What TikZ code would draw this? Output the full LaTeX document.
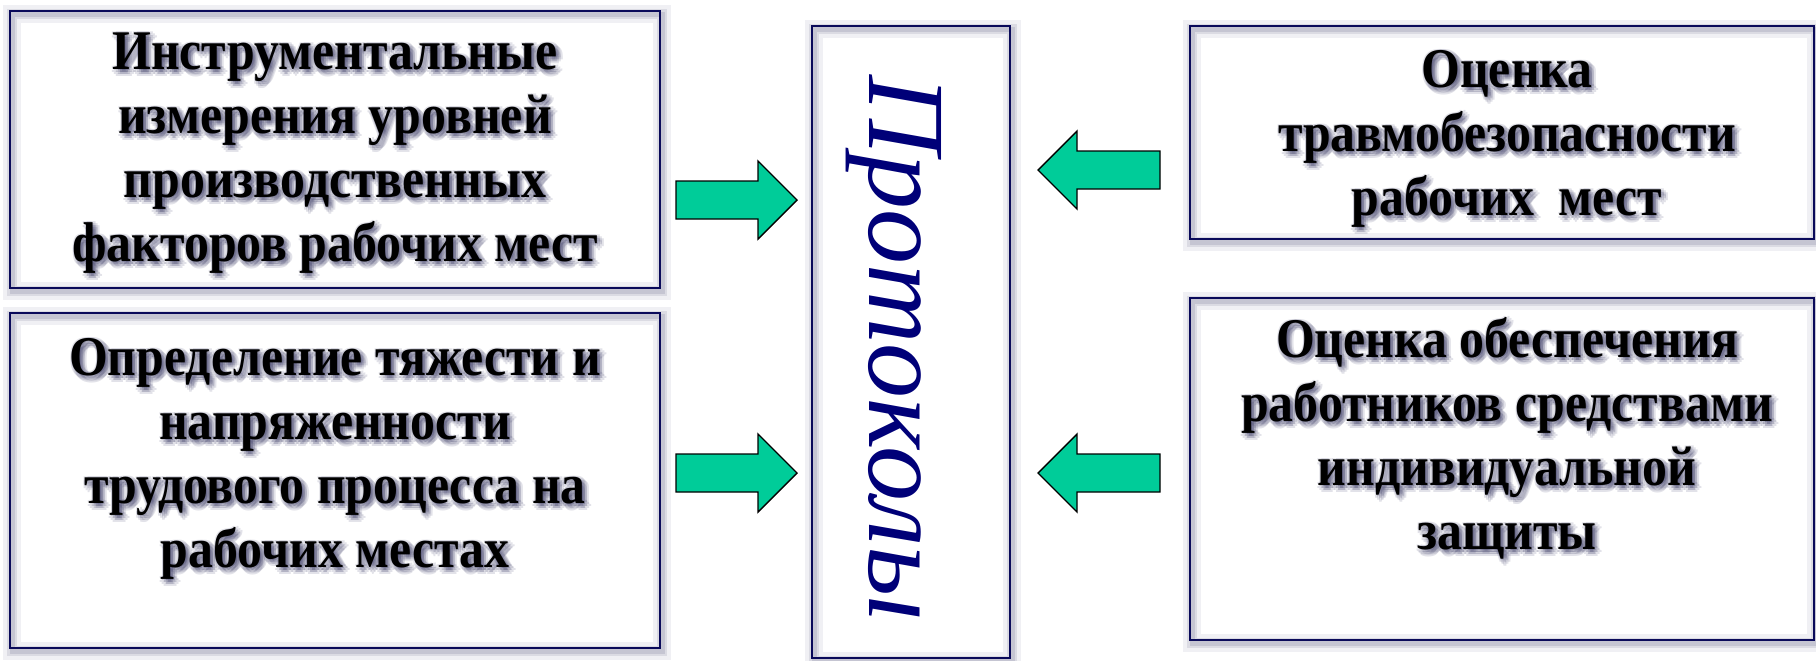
\documentclass[tikz,border=0pt]{standalone}
\usepackage{fontspec}
\setmainfont{Liberation Serif}
\newfontfamily\lblfont[FakeStretch=0.89]{Liberation Serif}
\definecolor{frameblue}{RGB}{10,10,90}
\definecolor{protblue}{RGB}{0,0,120}
\definecolor{arrowgreen}{RGB}{0,204,153}
\definecolor{shadowgray}{RGB}{70,70,110}
\definecolor{glownavy}{RGB}{20,20,70}
\tikzset{
  frame/.style={rectangle, draw=frameblue, line width=1.2pt, inner sep=0pt,
    preaction={draw=shadowgray, line width=9pt, draw opacity=0.08, transform canvas={xshift=1pt,yshift=-1.5pt}},
    preaction={draw=shadowgray, line width=5pt, draw opacity=0.12, transform canvas={xshift=1pt,yshift=-1.5pt}},
    preaction={draw=shadowgray, line width=2.5pt, draw opacity=0.15, transform canvas={xshift=1pt,yshift=-1.5pt}}},
  lbl/.style={align=center, font=\fontsize{28}{32}\lblfont\bfseries, text=black, inner sep=0pt},
  lblglow/.style={lbl, text=glownavy, text opacity=0.12},
  grarrow/.style={draw=black, line width=0.7pt, fill=arrowgreen, line join=miter}
}
% text with a soft shadow
\newcommand\glowtext[3]{%
  \foreach \sx/\sy in {0/0,2/0,0/2,2/2,3/1,1/3,3/3,4/2,2/4,1/1} {%
    \node[lblglow, xshift=\sx pt-0.5pt, yshift=-\sy pt+0.5pt] at #1 {#3};}
  \node[lbl] (#2) at #1 {#3};}
% block arrow: tail, head base, tip, y
\newcommand\greenarrow[4]{%
  \draw[grarrow] (#1,#4-19) -- (#2,#4-19) -- (#2,#4-39) -- (#3,#4)
    -- (#2,#4+39) -- (#2,#4+19) -- (#1,#4+19) -- cycle;}
\begin{document}
\begin{tikzpicture}[x=0.5pt,y=-0.5pt]
\useasboundingbox (0,0) rectangle (1816,660);
% frames
\node[frame, minimum width=325pt, minimum height=138.5pt] (instr) at (335,149.5) {};
\node[frame, minimum width=325pt, minimum height=167.5pt] (tyazh) at (335,480.5) {};
\node[frame, minimum width=99pt, minimum height=316pt] (prot) at (911,342) {};
\node[frame, minimum width=312pt, minimum height=106.5pt] (travm) at (1502,132.5) {};
\node[frame, minimum width=312pt, minimum height=171pt] (siz) at (1502,469) {};
% labels
\glowtext{(335,153)}{instrtxt}{Инструментальные\\измерения уровней\\производственных\\факторов рабочих мест}
\glowtext{(335,459)}{tyazhtxt}{Определение тяжести и\\напряженности\\трудового процесса на\\рабочих местах}
\glowtext{(1507,139)}{travmtxt}{Оценка\\травмобезопасности\\рабочих\ \ мест}
\glowtext{(1507,438)}{siztxt}{Оценка обеспечения\\работников средствами\\индивидуальной\\защиты}
\node[rotate=-90, anchor=base, text=protblue, font=\fontsize{55}{60}\selectfont\itshape, inner sep=0pt] (prottxt) at (869,348) {Протоколы};
% arrows
\greenarrow{676}{758}{797}{200}
\greenarrow{676}{758}{797}{473}
\greenarrow{1160}{1077}{1038}{170}
\greenarrow{1160}{1077}{1038}{473}
\end{tikzpicture}
\end{document}
